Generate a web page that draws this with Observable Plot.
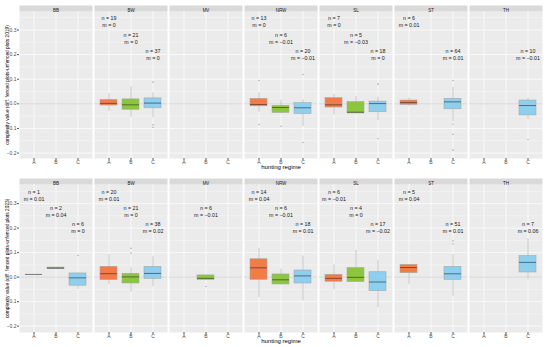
<!DOCTYPE html>
<html>
<head>
<meta charset="utf-8">
<script src="https://cdn.jsdelivr.net/npm/d3@7"></script>
<script src="https://cdn.jsdelivr.net/npm/@observablehq/plot@0.6"></script>
<style>
  html, body { margin: 0; padding: 0; background: white; }
  #chart svg { display: block; }
</style>
</head>
<body>
<div id="chart"></div>
<script>
const regions = ["BB", "BW", "MV", "NRW", "SL", "ST", "TH"];
const regimes = ["A", "B", "C"];
const regimeColors = ["#f47b45", "#8cc63f", "#8ccfee"];
const yTicks = [-0.2, -0.1, 0, 0.1, 0.2, 0.3];
const yMinor = [-0.15, -0.05, 0.05, 0.15, 0.25, 0.35];

// [region, regime, n, median label, lower whisker, q1, median, q3, upper whisker]
const boxes2019 = [
  ["BW", "A", 19, 0, -0.031, -0.007, 0.002, 0.016, 0.041],
  ["BW", "B", 21, 0, -0.054, -0.024, -0.004, 0.018, 0.070],
  ["BW", "C", 37, 0, -0.057, -0.018, 0.003, 0.022, 0.045],
  ["NRW", "A", 13, 0, -0.034, -0.010, -0.003, 0.020, 0.045],
  ["NRW", "B", 6, -0.01, -0.041, -0.037, -0.015, -0.008, 0.014],
  ["NRW", "C", 20, -0.01, -0.092, -0.041, -0.016, 0.003, 0.016],
  ["SL", "A", 7, 0, -0.045, -0.015, -0.004, 0.023, 0.038],
  ["SL", "B", 5, -0.03, -0.041, -0.039, -0.034, 0.007, 0.030],
  ["SL", "C", 18, 0, -0.069, -0.034, 0.001, 0.009, 0.027],
  ["ST", "A", 6, 0.01, -0.010, -0.004, 0.005, 0.0135, 0.024],
  ["ST", "C", 64, 0.01, -0.072, -0.022, 0.008, 0.020, 0.066],
  ["TH", "C", 10, -0.01, -0.064, -0.047, -0.007, 0.0135, 0.023]
];
// [region, regime, value]
const outliers2019 = [
  ["BW", "C", 0.088], ["BW", "C", -0.085], ["BW", "C", -0.095],
  ["NRW", "A", 0.095], ["NRW", "A", -0.084],
  ["NRW", "B", -0.091],
  ["NRW", "C", 0.119], ["NRW", "C", -0.157],
  ["SL", "C", 0.080], ["SL", "C", -0.141],
  ["ST", "C", 0.095], ["ST", "C", -0.083], ["ST", "C", -0.124], ["ST", "C", -0.188],
  ["TH", "C", -0.145]
];

const boxes2023 = [
  ["BB", "A", 1, 0.01, 0.011, 0.011, 0.011, 0.011, 0.011],
  ["BB", "B", 2, 0.04, 0.033, 0.033, 0.037, 0.039, 0.039],
  ["BB", "C", 6, 0, -0.050, -0.035, -0.003, 0.015, 0.015],
  ["BW", "A", 20, 0.01, -0.031, -0.012, 0.014, 0.042, 0.091],
  ["BW", "B", 21, 0, -0.061, -0.026, 0.001, 0.0136, 0.038],
  ["BW", "C", 38, 0.02, -0.039, -0.007, 0.015, 0.042, 0.083],
  ["MV", "B", 6, -0.01, -0.011, -0.011, -0.005, 0.007, 0.007],
  ["NRW", "A", 14, 0.04, -0.082, -0.011, 0.038, 0.073, 0.118],
  ["NRW", "B", 6, -0.01, -0.034, -0.030, -0.011, 0.011, 0.033],
  ["NRW", "C", 18, 0.01, -0.097, -0.026, 0.005, 0.027, 0.086],
  ["SL", "A", 6, -0.01, -0.052, -0.019, -0.005, 0.0095, 0.050],
  ["SL", "B", 4, 0, -0.020, -0.020, -0.001, 0.037, 0.109],
  ["SL", "C", 17, -0.02, -0.124, -0.057, -0.020, 0.020, 0.068],
  ["ST", "A", 5, 0.04, -0.030, 0.016, 0.039, 0.050, 0.050],
  ["ST", "C", 51, 0.01, -0.078, -0.011, 0.0136, 0.042, 0.091],
  ["TH", "C", 7, 0.06, -0.011, 0.019, 0.060, 0.086, 0.156]
];
const outliers2023 = [
  ["BB", "C", 0.088],
  ["BW", "B", 0.118], ["BW", "B", 0.098],
  ["MV", "B", -0.038],
  ["ST", "C", 0.148], ["ST", "C", 0.135]
];

const yLabels = {
  2019: "complexity value (diff. fenced plots-unfenced plots 2019)",
  2023: "complexity value (diff. fenced plots-unfenced plots 2023)"
};
const xLabel = "hunting regime";

// layout constants (text anchor heights in data units)
const labelY = {A: 0.334, B: 0.268, C: 0.203};
const fmtM = v => v === 0 ? "0" : (v < 0 ? "\u2212" + String(-v) : String(v));

function makePlot(boxes, outliers, year, height, marginTop, marginBottom, domain) {
  const panelH = height - marginTop - marginBottom;
  return Plot.plot({
    width: 550,
    height,
    marginLeft: 17,
    marginRight: 5,
    marginTop,
    marginBottom,
    style: {fontFamily: "Liberation Sans, Arial, sans-serif", fontSize: "5px", background: "white", color: "#4d4d4d", overflow: "visible"},
    fx: {domain: regions, axis: null, paddingInner: 0.025, paddingOuter: 0, label: null},
    x: {type: "band", domain: regimes, paddingInner: 0.25, paddingOuter: 0.225, label: null},
    y: {domain, label: null},
    color: {domain: regimes, range: regimeColors},
    marks: [
      Plot.frame({fill: "#ebebeb", stroke: null}),
      Plot.frame({fill: "#d9d9d9", stroke: null, insetTop: -6, insetBottom: panelH}),
      Plot.gridY(yMinor, {stroke: "white", strokeOpacity: 1, strokeWidth: 0.35}),
      Plot.gridY(yTicks, {stroke: "white", strokeOpacity: 1, strokeWidth: 0.7}),
      Plot.gridX(regimes, {stroke: "white", strokeOpacity: 1, strokeWidth: 0.7}),
      Plot.axisY(yTicks, {anchor: "left", tickFormat: d3.format(".1f"), tickSize: 2, tickPadding: 1, fontSize: 5, fill: "#4d4d4d", stroke: "#555", label: null}),
      Plot.axisX(regimes, {anchor: "bottom", tickSize: 2, tickPadding: -0.5, fontSize: 5, fill: "#4d4d4d", stroke: "#555", label: null}),
      Plot.ruleY([0], {stroke: "#cdcdcd", strokeWidth: 0.8}),
      Plot.text(regions, {fx: d => d, text: d => d, frameAnchor: "top", dy: -3, fontSize: 4.5, fill: "#1a1a1a"}),
      Plot.ruleX(boxes, {fx: d => d[0], x: d => d[1], y1: d => d[4], y2: d => d[8], stroke: "#b5b5b5", strokeWidth: 0.7}),
      Plot.barY(boxes, {fx: d => d[0], x: d => d[1], y1: d => d[5], y2: d => d[7], fill: d => d[1], stroke: "#a8a8a8", strokeWidth: 0.6}),
      Plot.tickY(boxes, {fx: d => d[0], x: d => d[1], y: d => d[6], stroke: "#2b2b2b", strokeOpacity: 0.6, strokeWidth: 1}),
      Plot.dot(outliers, {fx: d => d[0], x: d => d[1], y: d => d[2], r: 0.8, fill: "#b0b0b0", stroke: null}),
      Plot.text(boxes, {fx: d => d[0], x: d => d[1], y: d => labelY[d[1]], text: d => `n = ${d[2]}\nm = ${fmtM(d[3])}`, fontSize: 5.3, lineHeight: 1.32, fill: "#1a1a1a"}),
      Plot.text([xLabel], {fx: () => "NRW", x: () => "B", text: d => d, frameAnchor: "bottom", dy: 10.5, fontSize: 6, fill: "#000"}),
      Plot.text([yLabels[year]], {fx: () => "BB", text: d => d, frameAnchor: "left", textAnchor: "middle", rotate: -90, dx: -12.5, fontSize: 4.8, fill: "#000"})
    ]
  });
}

const chart = document.getElementById("chart");
chart.appendChild(makePlot(boxes2019, outliers2019, 2019, 170, 11, 12, [-0.222, 0.375]));
chart.appendChild(makePlot(boxes2023, outliers2023, 2023, 177, 14, 15, [-0.226, 0.378]));
</script>
</body>
</html>
